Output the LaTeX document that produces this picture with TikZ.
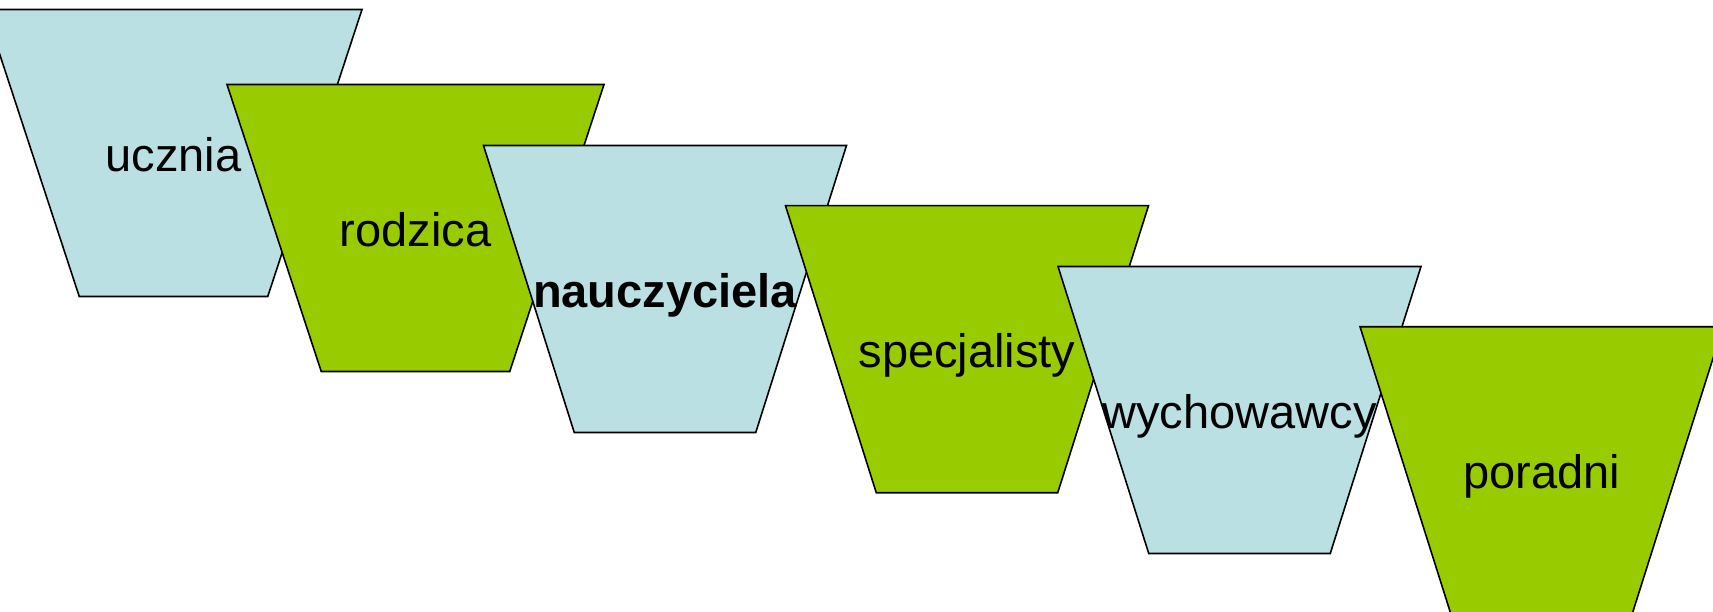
\documentclass[tikz,border=0pt]{standalone}
\usepackage{fontspec}
\setmainfont{Liberation Sans}
\usepackage{tikz}

\definecolor{jasnoniebieski}{RGB}{187,224,227}
\definecolor{zielony}{RGB}{153,204,0}

\tikzset{
    lejek/.style={draw=black, line width=1.6pt, line join=miter},
    napis/.style={anchor=base, inner sep=0pt, font=\fontsize{47}{56}\selectfont}
}

\begin{document}
\begin{tikzpicture}[x=1pt, y=-1pt]
        \clip (0,0) rectangle (1713,612);

        % ucznia
        \filldraw[lejek, fill=jasnoniebieski] (-15,9.5) -- (362,9.5) -- (267.75,296.5) -- (79.25,296.5) -- cycle;
        \node[napis] (ucznia) at (173.5,171.5) {ucznia};

        % rodzica
        \filldraw[lejek, fill=zielony] (227,84.5) -- (604,84.5) -- (509.75,371.5) -- (321.25,371.5) -- cycle;
        \node[napis] (rodzica) at (415.5,246.5) {rodzica};

        % nauczyciela
        \filldraw[lejek, fill=jasnoniebieski] (483.5,145.5) -- (846.5,145.5) -- (755.75,432.5) -- (574.25,432.5) -- cycle;
        \node[napis, font=\fontsize{47}{56}\selectfont\bfseries] (nauczyciela) at (665,308) {nauczyciela};

        % specjalisty
        \filldraw[lejek, fill=zielony] (785.5,205.7) -- (1148.5,205.7) -- (1057.75,492.7) -- (876.25,492.7) -- cycle;
        \node[napis] (specjalisty) at (967,367.7) {specjalisty};

        % wychowawcy
        \filldraw[lejek, fill=jasnoniebieski] (1058,266.5) -- (1421,266.5) -- (1330.25,553.5) -- (1148.75,553.5) -- cycle;
        \node[napis] (wychowawcy) at (1239.5,428.5) {wychowawcy};

        % poradni
        \filldraw[lejek, fill=zielony] (1360,326.7) -- (1723,326.7) -- (1632.25,613.7) -- (1450.75,613.7) -- cycle;
        \node[napis] (poradni) at (1541.5,488.7) {poradni};
\end{tikzpicture}
\end{document}
